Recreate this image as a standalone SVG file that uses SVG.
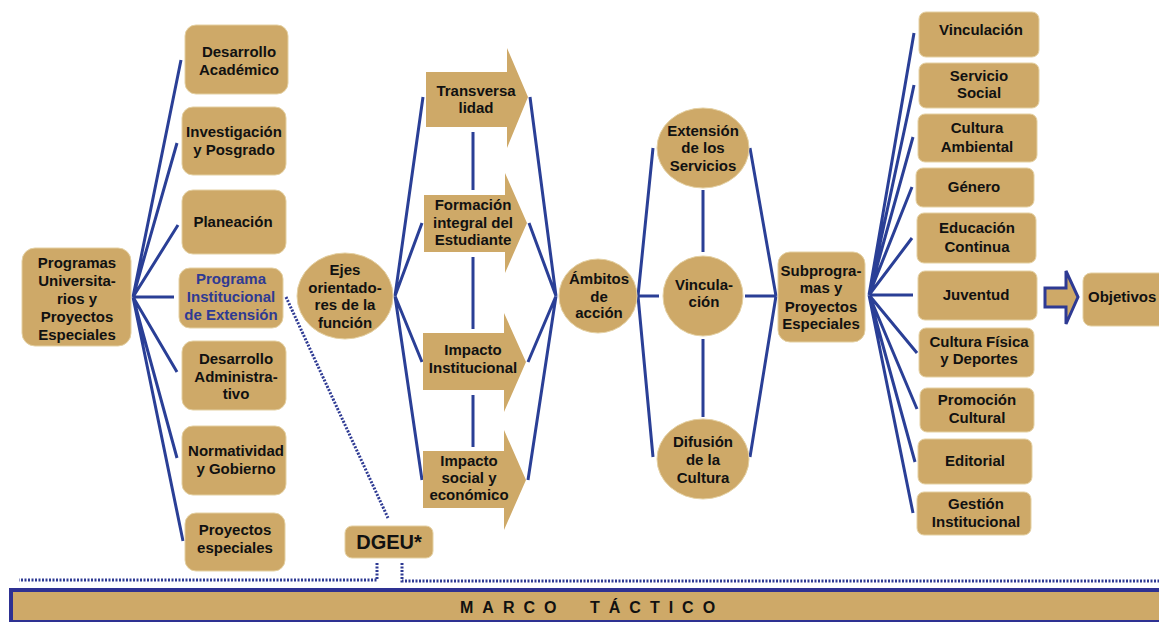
<svg xmlns="http://www.w3.org/2000/svg" width="1159" height="622" viewBox="0 0 1159 622">
<style>
.box{fill:#CEA968;stroke:#E4D0A2;stroke-width:1}
.blk{fill:#CEA968}
.t{font-family:"Liberation Sans",Arial,sans-serif;font-weight:bold;font-size:15px;fill:#111;text-anchor:middle}
.tb{fill:#2E3A93}
.ln{stroke:#2A3F96;stroke-width:3;fill:none;stroke-linecap:butt}
.dot{stroke:#2E3A93;stroke-width:3;fill:none;stroke-dasharray:2 1.5}
</style>
<rect width="1159" height="622" fill="#fff"/>
<g id="connectors">
<path class="ln" d="M133,297L181,60M133,297L177,143M133,297L178,225M133,297L174,297M133,297L177,372M133,297L177,458M133,297L183,541"/>
<path class="ln" d="M395,296L423,97M395,296L422,223M395,296L422,362M395,296L422,480"/>
<path class="ln" d="M473,132V190M473,257V329M473,395V447"/>
<path class="ln" d="M530,97L556,296M529,223L556,296M528,362L556,296M528,480L556,296"/>
<path class="ln" d="M638,296L653,148M638,296L659,296M638,296L653,457"/>
<path class="ln" d="M703,190V252M703,339V417"/>
<path class="ln" d="M750,148L776,296M745,296L776,296M750,457L776,296"/>
<path class="ln" d="M869,295L914,33M869,295L914,85M869,295L913,137M869,295L912,187M869,295L912,238M869,295L913,295M869,295L917,353M869,295L917,409M869,295L915,462M869,295L913,513"/>
<path class="dot" d="M286,297L388,518"/>
<path class="dot" d="M377,563V580H19"/>
<path class="dot" d="M402,563V581H1159"/>
</g>
<g id="n-programas"><rect class="box" x="22" y="248" width="109" height="98" rx="13"/>
<text class="t" x="77" y="268">Programas</text><text class="t" x="77" y="286">Universita-</text><text class="t" x="77" y="304">rios y</text><text class="t" x="77" y="322">Proyectos</text><text class="t" x="77" y="340">Especiales</text></g>
<g id="n-desacad"><rect class="box" x="185" y="25" width="103" height="69" rx="11"/>
<text class="t" x="239" y="57">Desarrollo</text><text class="t" x="239" y="75">Académico</text></g>
<g id="n-invest"><rect class="box" x="182" y="107" width="104" height="68" rx="11"/>
<text class="t" x="234" y="137">Investigación</text><text class="t" x="234" y="155">y Posgrado</text></g>
<g id="n-planeacion"><rect class="box" x="182" y="190" width="104" height="64" rx="11"/>
<text class="t" x="233" y="227">Planeación</text></g>
<g id="n-pie"><rect class="box" x="179" y="268" width="104" height="60" rx="11"/>
<text class="t tb" x="231" y="284">Programa</text><text class="t tb" x="231" y="302">Institucional</text><text class="t tb" x="231" y="320">de Extensión</text></g>
<g id="n-desadmin"><rect class="box" x="182" y="341" width="104" height="69" rx="11"/>
<text class="t" x="236" y="364">Desarrollo</text><text class="t" x="236" y="382">Administra-</text><text class="t" x="236" y="399">tivo</text></g>
<g id="n-normat"><rect class="box" x="182" y="426" width="104" height="69" rx="11"/>
<text class="t" x="236" y="456">Normatividad</text><text class="t" x="236" y="474">y Gobierno</text></g>
<g id="n-proyesp"><rect class="box" x="185" y="513" width="100" height="58" rx="11"/>
<text class="t" x="235" y="535">Proyectos</text><text class="t" x="235" y="553">especiales</text></g>
<g id="n-ejes"><ellipse class="box" cx="345" cy="296" rx="48" ry="43"/>
<text class="t" x="345" y="275">Ejes</text><text class="t" x="345" y="293">orientado-</text><text class="t" x="345" y="310">res de la</text><text class="t" x="345" y="328">función</text></g>
<g id="n-transv"><polygon class="blk" points="426,72 507,72 507,48 528,97 507,148 507,127 426,127"/>
<text class="t" x="476" y="96">Transversa</text><text class="t" x="476" y="113">lidad</text></g>
<g id="n-formacion"><polygon class="blk" points="424,195 505,195 505,173 527,223 505,273 505,252 424,252"/>
<text class="t" x="473" y="210">Formación</text><text class="t" x="473" y="228">integral del</text><text class="t" x="473" y="245">Estudiante</text></g>
<g id="n-impinst"><polygon class="blk" points="423,333 504,333 504,313 526,362 504,412 504,390 423,390"/>
<text class="t" x="473" y="355">Impacto</text><text class="t" x="473" y="373">Institucional</text></g>
<g id="n-impsoc"><polygon class="blk" points="423,451 504,451 504,430 526,480 504,530 504,508 423,508"/>
<text class="t" x="469" y="466">Impacto</text><text class="t" x="469" y="483">social y</text><text class="t" x="469" y="500">económico</text></g>
<g id="n-ambitos"><ellipse class="box" cx="598" cy="296" rx="39" ry="37"/>
<text class="t" x="599" y="284">Ámbitos</text><text class="t" x="599" y="302">de</text><text class="t" x="599" y="318">acción</text></g>
<g id="n-extserv"><ellipse class="box" cx="703" cy="148" rx="46" ry="40"/>
<text class="t" x="703" y="136">Extensión</text><text class="t" x="703" y="153">de los</text><text class="t" x="703" y="171">Servicios</text></g>
<g id="n-vinc"><ellipse class="box" cx="703" cy="296" rx="40" ry="40"/>
<text class="t" x="704" y="290">Vincula-</text><text class="t" x="704" y="307">ción</text></g>
<g id="n-difusion"><ellipse class="box" cx="703" cy="459" rx="46" ry="40"/>
<text class="t" x="703" y="447">Difusión</text><text class="t" x="703" y="465">de la</text><text class="t" x="703" y="483">Cultura</text></g>
<g id="n-subprog"><rect class="box" x="778" y="252" width="87" height="90" rx="12"/>
<text class="t" x="821" y="276">Subprogra-</text><text class="t" x="821" y="293">mas y</text><text class="t" x="821" y="312">Proyectos</text><text class="t" x="821" y="329">Especiales</text></g>
<g id="r-vinc"><rect class="box" x="919" y="12" width="120" height="45" rx="7"/><text class="t" x="981" y="35">Vinculación</text></g>
<g id="r-servsoc"><rect class="box" x="919" y="63" width="120" height="45" rx="7"/><text class="t" x="979" y="81">Servicio</text><text class="t" x="979" y="98">Social</text></g>
<g id="r-cultamb"><rect class="box" x="918" y="114" width="119" height="48" rx="7"/><text class="t" x="977" y="133">Cultura</text><text class="t" x="977" y="152">Ambiental</text></g>
<g id="r-genero"><rect class="box" x="916" y="168" width="118" height="39" rx="7"/><text class="t" x="974" y="192">Género</text></g>
<g id="r-educ"><rect class="box" x="917" y="213" width="119" height="50" rx="7"/><text class="t" x="977" y="233">Educación</text><text class="t" x="977" y="252">Continua</text></g>
<g id="r-juventud"><rect class="box" x="918" y="271" width="119" height="49" rx="7"/><text class="t" x="976" y="300">Juventud</text></g>
<g id="r-cultfis"><rect class="box" x="919" y="328" width="115" height="49" rx="7"/><text class="t" x="979" y="347">Cultura Física</text><text class="t" x="979" y="364">y Deportes</text></g>
<g id="r-promcult"><rect class="box" x="920" y="388" width="114" height="44" rx="7"/><text class="t" x="977" y="405">Promoción</text><text class="t" x="977" y="423">Cultural</text></g>
<g id="r-editorial"><rect class="box" x="918" y="439" width="114" height="45" rx="7"/><text class="t" x="975" y="466">Editorial</text></g>
<g id="r-gestion"><rect class="box" x="917" y="492" width="114" height="43" rx="7"/><text class="t" x="976" y="509">Gestión</text><text class="t" x="976" y="527">Institucional</text></g>
<g id="a-objetivos"><polygon points="1045,288 1066,288 1066,271 1078,297 1066,324 1066,307 1045,307" fill="#CEA968" stroke="#2E3A93" stroke-width="3" stroke-linejoin="miter"/></g>
<g id="n-objetivos"><rect class="box" x="1083" y="273" width="90" height="53" rx="8"/><text class="t" x="1088" y="302" style="text-anchor:start">Objetivos</text></g>
<g id="n-dgeu"><rect class="box" x="345" y="526" width="88" height="32" rx="7"/>
<text class="t" x="389" y="549" style="font-size:20px">DGEU*</text></g>
<g id="marco"><rect x="11" y="590" width="1160" height="32" fill="#CEA968" stroke="#2E3192" stroke-width="4"/>
<text class="t" x="460" y="613" style="text-anchor:start;font-size:16px;letter-spacing:9px">MARCO</text>
<text class="t" x="590" y="613" style="text-anchor:start;font-size:16px;letter-spacing:9px">TÁCTICO</text></g>
</svg>
